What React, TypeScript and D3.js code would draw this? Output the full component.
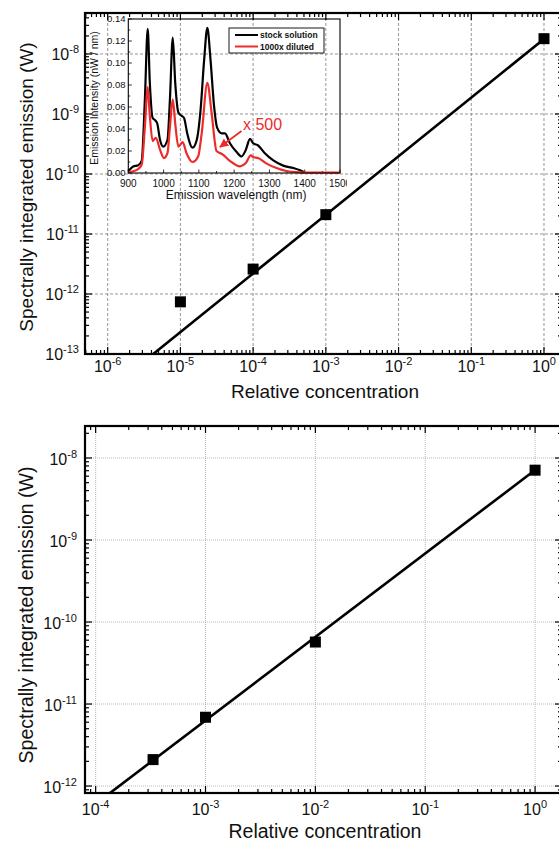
import React from 'react';
import * as d3 from 'd3';

// ---------- main (top) panel data ----------
const topConc = [1e-5, 1e-4, 1e-3, 1];
const topEmission = [7.4e-13, 2.6e-12, 2.1e-11, 1.8e-8];
const topFitSlope = 0.977;
const topFitLogAtUnity = -7.75;
const topXDecades = [-6, -5, -4, -3, -2, -1, 0];
const topYDecades = [-13, -12, -11, -10, -9, -8];

// ---------- bottom panel data ----------
const botConc = [3.33e-4, 1e-3, 1e-2, 1];
const botEmission = [2.1e-12, 6.9e-12, 5.7e-11, 7.1e-9];
const botFitSlope = 1.018;
const botFitLogAtUnity = -8.146;
const botXDecades = [-4, -3, -2, -1, 0];
const botYDecades = [-12, -11, -10, -9, -8];

// ---------- inset spectra ----------
const stockWavelength = [900, 914, 928, 938, 947, 955, 961, 969, 976, 982, 990, 999, 1011, 1018, 1026, 1033, 1042, 1051, 1058, 1067, 1082, 1094, 1105, 1115, 1124, 1133, 1143, 1152, 1165, 1174, 1188, 1207, 1221, 1233, 1245, 1254, 1268, 1287, 1311, 1339, 1368, 1387, 1398, 1400];
const stockIntensity = [0.0015, 0.006, 0.007, 0.011, 0.067, 0.131, 0.082, 0.05, 0.048, 0.045, 0.03, 0.024, 0.03, 0.067, 0.123, 0.082, 0.055, 0.052, 0.05, 0.036, 0.023, 0.03, 0.058, 0.103, 0.132, 0.103, 0.061, 0.041, 0.036, 0.036, 0.027, 0.019, 0.015, 0.021, 0.031, 0.027, 0.025, 0.018, 0.0115, 0.0067, 0.0045, 0.0024, 0.0006, 0.0];
const dilutedWavelength = [900, 928, 938, 947, 955, 961, 969, 978, 990, 1001, 1011, 1018, 1026, 1033, 1042, 1054, 1065, 1082, 1098, 1108, 1124, 1136, 1150, 1167, 1188, 1217, 1233, 1247, 1254, 1268, 1292, 1320, 1348, 1387, 1425, 1500];
const dilutedIntensity = [0.0006, 0.0036, 0.0076, 0.042, 0.078, 0.052, 0.029, 0.032, 0.021, 0.0136, 0.018, 0.042, 0.067, 0.045, 0.024, 0.028, 0.018, 0.01, 0.015, 0.036, 0.082, 0.055, 0.02, 0.017, 0.011, 0.006, 0.009, 0.016, 0.0145, 0.0136, 0.0085, 0.0045, 0.0018, 0.0006, 0.0003, 0.0003];
const insetYTicks = [0, 0.02, 0.04, 0.06, 0.08, 0.1, 0.12, 0.14];
const insetXTicks = [900, 1000, 1100, 1200, 1300, 1400, 1500];
const legendLabels = ['stock solution', '1000x diluted'];
const annotationText = 'x 500';

const FONT = "'Liberation Sans', Arial, Helvetica, sans-serif";
const RED = '#ee2b2b';

type Panel = {
  left: number; right: number; top: number; bottom: number;
  xLog: [number, number]; yLog: [number, number];
};

const topPanel: Panel = { left: 85, right: 562, top: 13, bottom: 354, xLog: [-6.312, 0.2476], yLog: [-13, -7.317] };
const botPanel: Panel = { left: 85, right: 562, top: 426, bottom: 793, xLog: [-4.097, 0.245], yLog: [-12.085, -7.61] };

function minorValues(scale: d3.ScaleLogarithmic<number, number>) {
  const [a, b] = scale.domain();
  const out: { v: number; major: boolean }[] = [];
  for (let e = Math.floor(Math.log10(a)) - 1; e <= Math.ceil(Math.log10(b)); e++) {
    for (let k = 1; k <= 9; k++) {
      const v = k * Math.pow(10, e);
      if (v >= a * 0.9999 && v <= b * 1.0001) out.push({ v, major: k === 1 });
    }
  }
  return out;
}

function Sup({ x, y, exp, anchor, size, supSize }: { x: number; y: number; exp: number; anchor: 'middle' | 'end'; size: number; supSize: number }) {
  return (
    <text x={x} y={y} textAnchor={anchor} fontFamily={FONT} fontSize={size} fill="#111">
      <tspan>10</tspan>
      <tspan dy={-size * 0.45} fontSize={supSize}>{exp === 0 ? '0' : `-${Math.abs(exp)}`}</tspan>
    </text>
  );
}

function LogPanel({ p, id, conc, emission, slope, logAtUnity, xDecades, yDecades, grid, cfg }: {
  p: Panel; id: string; conc: number[]; emission: number[]; slope: number; logAtUnity: number;
  xDecades: number[]; yDecades: number[]; grid: 'dashed' | 'dotted';
  cfg: { tickSize: number; supSize: number; xLabelY: number; yLabelX: number; yLabelDy: number; titleSize: number; xTitleY: number; yTitleX: number; yTitleY: number };
}) {
  const x = d3.scaleLog().domain([Math.pow(10, p.xLog[0]), Math.pow(10, p.xLog[1])]).range([p.left, p.right]);
  const y = d3.scaleLog().domain([Math.pow(10, p.yLog[0]), Math.pow(10, p.yLog[1])]).range([p.bottom, p.top]);
  const xt = minorValues(x);
  const yt = minorValues(y);
  const gridStyle = grid === 'dashed'
    ? { stroke: '#8a8a8a', strokeDasharray: '3,2', strokeWidth: 0.9 }
    : { stroke: '#b0b0b0', strokeDasharray: '1,1', strokeWidth: 0.9 };
  const fitX0 = x.domain()[0];
  const fitX1 = 1;
  const fitPts: [number, number][] = [fitX0, fitX1].map(c => [x(c), y(Math.pow(10, logAtUnity + slope * Math.log10(c)))]);
  const line = d3.line();
  const MAJ = 7, MIN = 4;
  return (
    <g>
      <defs>
        <clipPath id={id}>
          <rect x={p.left} y={p.top} width={p.right - p.left} height={p.bottom - p.top} />
        </clipPath>
      </defs>
      {xDecades.map(e => (
        <line key={'gx' + e} x1={x(Math.pow(10, e))} x2={x(Math.pow(10, e))} y1={p.top} y2={p.bottom} {...gridStyle} />
      ))}
      {yDecades.map(e => (
        <line key={'gy' + e} y1={y(Math.pow(10, e))} y2={y(Math.pow(10, e))} x1={p.left} x2={p.right} {...gridStyle} />
      ))}
      {xt.map((t, i) => {
        const xx = x(t.v); const L = t.major ? MAJ : MIN;
        return (
          <g key={'xt' + i}>
            <line x1={xx} x2={xx} y1={p.bottom} y2={p.bottom - L} stroke="#000" strokeWidth={1.2} />
            <line x1={xx} x2={xx} y1={p.top} y2={p.top + L} stroke="#000" strokeWidth={1.2} />
          </g>
        );
      })}
      {yt.map((t, i) => {
        const yy = y(t.v); const L = t.major ? MAJ : MIN;
        return (
          <g key={'yt' + i}>
            <line y1={yy} y2={yy} x1={p.left} x2={p.left + L} stroke="#000" strokeWidth={1.2} />
            <line y1={yy} y2={yy} x1={p.right} x2={p.right - L} stroke="#000" strokeWidth={1.2} />
          </g>
        );
      })}
      <g clipPath={`url(#${id})`}>
        <path d={line(fitPts) || ''} stroke="#000" strokeWidth={2.6} fill="none" />
        {conc.map((c, i) => (
          <rect key={'pt' + i} x={x(c) - 5.5} y={y(emission[i]) - 5.5} width={11} height={11} fill="#000" />
        ))}
      </g>
      <rect x={p.left} y={p.top} width={p.right - p.left} height={p.bottom - p.top} fill="none" stroke="#000" strokeWidth={2.2} />
      {xDecades.map(e => (
        <Sup key={'xl' + e} x={x(Math.pow(10, e))} y={cfg.xLabelY} exp={e} anchor="middle" size={cfg.tickSize} supSize={cfg.supSize} />
      ))}
      {yDecades.map(e => (
        <Sup key={'yl' + e} x={cfg.yLabelX} y={y(Math.pow(10, e)) + cfg.yLabelDy} exp={e} anchor="end" size={cfg.tickSize} supSize={cfg.supSize} />
      ))}
      <text x={(p.left + 559) / 2 + 3} y={cfg.xTitleY} textAnchor="middle" fontFamily={FONT} fontSize={cfg.titleSize} fill="#111">Relative concentration</text>
      <text transform={`translate(${cfg.yTitleX},${cfg.yTitleY}) rotate(-90)`} textAnchor="middle" fontFamily={FONT} fontSize={cfg.titleSize} fill="#111">Spectrally integrated emission (W)</text>
    </g>
  );
}

function Inset() {
  const L = 128.3, R = 340, T = 19, B = 173;
  const x = d3.scaleLinear().domain([900, 1500]).range([L, R]);
  const y = d3.scaleLinear().domain([0, 0.14]).range([B, T]);
  const line = d3.line<number>().curve(d3.curveMonotoneX);
  const stockPath = line.x((_, i) => x(stockWavelength[i])).y(d => y(d))(stockIntensity) || '';
  const dilPath = line.x((_, i) => x(dilutedWavelength[i])).y(d => y(d))(dilutedIntensity) || '';
  const minorY = d3.range(0, 0.1401, 0.01);
  const minorX = d3.range(900, 1501, 50);
  return (
    <g>
      <defs>
        <clipPath id="insetClip"><rect x={86} y={14} width={261} height={188} /></clipPath>
        <marker id="arrowHead" viewBox="0 0 10 10" refX="9" refY="5" markerWidth="5" markerHeight="5" orient="auto">
          <path d="M0,0 L10,5 L0,10 z" fill={RED} />
        </marker>
      </defs>
      <g clipPath="url(#insetClip)">
        {minorY.map((v, i) => (
          <line key={'iy' + i} x1={L} x2={L + (i % 2 === 0 ? 3.5 : 2)} y1={y(v)} y2={y(v)} stroke="#000" strokeWidth={0.8} />
        ))}
        {minorX.map((v, i) => (
          <line key={'ix' + i} y1={B} y2={B - (i % 2 === 0 ? 3.5 : 2)} x1={x(v)} x2={x(v)} stroke="#000" strokeWidth={0.8} />
        ))}
        <path d={stockPath} stroke="#000" strokeWidth={2.2} fill="none" />
        <path d={dilPath} stroke={RED} strokeWidth={2.2} fill="none" />
        <rect x={L} y={T} width={R - L} height={B - T} fill="none" stroke="#000" strokeWidth={1.1} />
        {insetYTicks.map(v => (
          <text key={'iyl' + v} x={125.5} y={y(v) + 3.3} textAnchor="end" fontFamily={FONT} fontSize={9.5} fill="#111">{v.toFixed(2)}</text>
        ))}
        {insetXTicks.map(v => (
          <text key={'ixl' + v} x={x(v)} y={187} textAnchor="middle" fontFamily={FONT} fontSize={10} fill="#111">{v}</text>
        ))}
        <text x={(L + R) / 2 + 2} y={198.5} textAnchor="middle" fontFamily={FONT} fontSize={12} fill="#111">Emission wavelength (nm)</text>
        <text transform={`translate(98,${(T + B) / 2 + 2}) rotate(-90)`} textAnchor="middle" fontFamily={FONT} fontSize={10.5} fill="#111">Emission Intensity (nW / nm)</text>
        <rect x={229} y={28} width={95} height={25} fill="#fff" stroke="#000" strokeWidth={0.9} />
        <line x1={235} x2={258} y1={35} y2={35} stroke="#000" strokeWidth={2} />
        <line x1={235} x2={258} y1={46.5} y2={46.5} stroke={RED} strokeWidth={2} />
        <text x={260} y={38} fontFamily={FONT} fontSize={8.5} fontWeight="bold" fill="#111">{legendLabels[0]}</text>
        <text x={260} y={49.5} fontFamily={FONT} fontSize={8.5} fontWeight="bold" fill="#111">{legendLabels[1]}</text>
        <text x={243} y={130} fontFamily={FONT} fontSize={16} fill={RED}>{annotationText}</text>
        <line x1={241.5} y1={131} x2={220} y2={147} stroke={RED} strokeWidth={1.8} markerEnd="url(#arrowHead)" />
      </g>
    </g>
  );
}

export default function App() {
  return (
    <svg width={559} height={842} style={{ position: 'absolute', left: 0, top: 0, background: '#fff' }}>
      <rect width={559} height={842} fill="#fff" />
      <LogPanel p={topPanel} id="clipTop" conc={topConc} emission={topEmission} slope={topFitSlope} logAtUnity={topFitLogAtUnity}
        xDecades={topXDecades} yDecades={topYDecades} grid="dashed"
        cfg={{ tickSize: 16, supSize: 11, xLabelY: 372, yLabelX: 79, yLabelDy: 6, titleSize: 19, xTitleY: 398, yTitleX: 33, yTitleY: 187 }} />
      <Inset />
      <LogPanel p={botPanel} id="clipBot" conc={botConc} emission={botEmission} slope={botFitSlope} logAtUnity={botFitLogAtUnity}
        xDecades={botXDecades} yDecades={botYDecades} grid="dotted"
        cfg={{ tickSize: 16, supSize: 11, xLabelY: 815, yLabelX: 77, yLabelDy: 7, titleSize: 19.5, xTitleY: 838, yTitleX: 33, yTitleY: 615 }} />
    </svg>
  );
}
